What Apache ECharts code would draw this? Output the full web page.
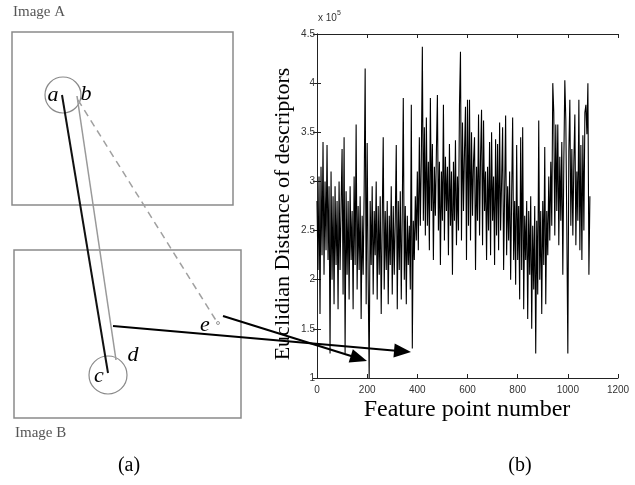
<!DOCTYPE html>
<html>
<head>
<meta charset="utf-8">
<script src="https://cdn.jsdelivr.net/npm/echarts@6/dist/echarts.min.js"></script>
<style>
html,body{margin:0;padding:0;background:#fff;}
#chart{width:635px;height:485px;}
</style>
</head>
<body>
<div id="chart"></div>
<script>
// Feature point number step between read values
const pointStep = 4;
// Euclidian distance of descriptors (x 10^5), one value per 4 feature points
const distances = [
  2.80,2.10,3.05,1.65,3.15,2.25,3.40,2.05,3.00,2.30,
  3.37,2.20,2.95,1.25,3.10,2.00,2.85,1.75,2.95,2.15,
  2.80,1.70,3.00,2.10,2.75,3.33,1.85,3.45,1.25,2.90,
  2.05,2.80,1.80,2.95,2.20,2.70,1.70,3.05,2.15,3.58,
  1.90,2.75,2.10,2.85,1.60,2.65,2.05,2.90,4.15,1.75,
  3.39,2.00,1.00,2.80,2.15,2.95,1.85,2.70,2.25,3.00,
  1.80,2.75,2.05,2.85,1.65,2.60,3.45,1.90,2.70,2.10,
  2.80,1.75,2.65,2.15,2.95,1.85,2.75,2.05,2.60,3.37,
  1.70,2.80,2.10,2.90,1.80,2.70,3.85,2.00,2.75,1.75,
  2.65,2.15,2.55,1.90,3.78,1.30,2.60,2.20,2.85,2.40,
  3.10,2.30,3.45,2.55,3.25,4.37,2.60,3.55,2.45,3.65,
  2.55,3.20,2.30,3.85,2.70,3.38,2.20,3.15,2.65,3.30,
  3.88,2.50,3.20,2.15,3.10,2.60,3.78,2.40,3.25,2.70,
  3.15,2.25,3.38,2.55,3.10,2.05,3.20,2.60,3.42,2.35,
  3.05,2.50,3.77,4.32,2.40,3.60,2.70,3.30,3.76,2.20,
  3.83,2.55,3.83,2.40,3.50,2.65,3.20,3.45,2.10,3.15,
  2.60,3.68,2.45,3.25,3.73,2.35,3.62,2.70,3.10,2.20,
  3.15,2.50,3.40,2.25,3.50,2.60,3.05,2.15,3.43,2.45,
  3.38,2.30,3.60,2.50,3.00,3.55,2.10,2.90,3.67,2.25,
  2.95,2.40,3.10,2.00,2.85,3.65,2.20,2.80,1.95,3.37,
  2.20,2.75,1.80,3.45,2.10,3.55,1.70,2.65,2.20,2.80,
  1.60,2.70,2.05,2.85,1.50,2.55,1.90,2.75,1.25,2.60,
  1.85,3.62,2.00,2.70,1.65,2.80,2.15,3.35,1.75,2.70,
  2.25,3.05,2.40,3.20,2.55,4.00,3.70,2.45,3.58,2.70,
  3.58,2.35,3.25,2.60,3.40,2.05,3.20,4.03,3.62,2.50,
  1.25,3.30,3.83,2.55,3.33,2.45,3.20,3.68,2.35,3.10,
  2.60,3.83,2.30,3.37,2.20,3.47,2.50,3.70,3.78,3.48,
  4.00,2.05,2.85
];
const xTicks = [0,200,400,600,800,1000,1200];
const yTicks = [1,1.5,2,2.5,3,3.5,4,4.5];

const seriesData = distances.map((v,i)=>[i*pointStep, v]);

const serif = '"Liberation Serif","Times New Roman",serif';
const narrow = '"Liberation Sans Narrow","Arial Narrow","Liberation Sans",sans-serif';

function arrowEls(x1,y1,x2,y2){
  const dx=x2-x1, dy=y2-y1, L=Math.hypot(dx,dy), ux=dx/L, uy=dy/L;
  const hl=17, hw=7;
  const bx=x2-ux*hl, by=y2-uy*hl;
  return [
    {type:'line', z:100, shape:{x1:x1,y1:y1,x2:bx+ux*2,y2:by+uy*2}, style:{stroke:'#000', lineWidth:2}},
    {type:'polygon', z:100, shape:{points:[[x2,y2],[bx-uy*hw,by+ux*hw],[bx+uy*hw,by-ux*hw]]}, style:{fill:'#000'}}
  ];
}

const gray='#8a8a8a';
const graphics = [
  {type:'text', left:13, top:5, style:{text:'Image A', font:'15px '+serif, fill:'#555'}},
  {type:'rect', shape:{x:12,y:32,width:221,height:173}, style:{fill:'none', stroke:gray, lineWidth:1.5}},
  {type:'rect', shape:{x:14,y:250,width:227,height:168}, style:{fill:'none', stroke:gray, lineWidth:1.5}},
  {type:'text', left:15, top:426, style:{text:'Image B', font:'15px '+serif, fill:'#555'}},
  {type:'circle', shape:{cx:63,cy:95,r:18}, style:{fill:'none', stroke:gray, lineWidth:1.2}},
  {type:'circle', shape:{cx:108,cy:375,r:19}, style:{fill:'none', stroke:gray, lineWidth:1.2}},
  {type:'line', shape:{x1:62,y1:95,x2:108,y2:373}, style:{stroke:'#111', lineWidth:2}},
  {type:'line', shape:{x1:77,y1:96,x2:116,y2:360}, style:{stroke:'#999', lineWidth:1.5}},
  {type:'line', shape:{x1:78,y1:100,x2:217,y2:322}, style:{stroke:'#a0a0a0', lineWidth:1.5, lineDash:[7,5]}},
  {type:'circle', shape:{cx:218,cy:323,r:1.5}, style:{fill:'none', stroke:'#999', lineWidth:1}},
  {type:'text', x:53, y:95, style:{text:'a', font:'italic 22px '+serif, fill:'#000', textAlign:'center', textVerticalAlign:'middle'}},
  {type:'text', x:86, y:94, style:{text:'b', font:'italic 22px '+serif, fill:'#000', textAlign:'center', textVerticalAlign:'middle'}},
  {type:'text', x:99, y:376, style:{text:'c', font:'italic 22px '+serif, fill:'#000', textAlign:'center', textVerticalAlign:'middle'}},
  {type:'text', x:133, y:355, style:{text:'d', font:'italic 22px '+serif, fill:'#000', textAlign:'center', textVerticalAlign:'middle'}},
  {type:'text', x:205, y:325, style:{text:'e', font:'italic 22px '+serif, fill:'#000', textAlign:'center', textVerticalAlign:'middle'}},
  ...arrowEls(113,326,411,352),
  ...arrowEls(223,316,367,361),
  {type:'text', x:129, y:466, style:{text:'(a)', font:'20px '+serif, fill:'#000', textAlign:'center', textVerticalAlign:'middle'}},
  {type:'text', x:520, y:466, style:{text:'(b)', font:'20px '+serif, fill:'#000', textAlign:'center', textVerticalAlign:'middle'}},
  {type:'text', x:467, y:410, style:{text:'Feature point number', font:'24px '+serif, fill:'#000', textAlign:'center', textVerticalAlign:'middle'}},
  {type:'text', x:283, y:214, rotation:Math.PI/2, style:{text:'Euclidian Distance of descriptors', font:'22px '+serif, fill:'#000', textAlign:'center', textVerticalAlign:'middle'}},
  {type:'text', x:318, y:23, style:{text:'{a|x 10}{s|5}', textVerticalAlign:'bottom', rich:{a:{fontSize:10, fontFamily:narrow, fill:'#333', verticalAlign:'bottom'}, s:{fontSize:7, fontFamily:narrow, fill:'#333', verticalAlign:'top', padding:[0,0,6,0]}}}}
];

const axisCommon = {
  axisLine:{show:true, lineStyle:{color:'#222', width:1}},
  splitLine:{show:false}
};
const plain = v => String(v);

const chart = echarts.init(document.getElementById('chart'), null, {renderer:'canvas'});
chart.setOption({
  animation:false,
  backgroundColor:'#fff',
  grid:{left:317, top:34, right:17, bottom:107},
  xAxis:[
    Object.assign({type:'value', position:'bottom', min:xTicks[0], max:xTicks[xTicks.length-1], interval:200,
      axisTick:{inside:true, length:4, lineStyle:{color:'#222'}},
      axisLabel:{fontSize:10, fontFamily:narrow, color:'#333', margin:7, formatter:plain}}, axisCommon),
    Object.assign({type:'value', position:'top', min:xTicks[0], max:xTicks[xTicks.length-1], interval:200,
      axisTick:{inside:true, length:4, lineStyle:{color:'#222'}}, axisLabel:{show:false}}, axisCommon)
  ],
  yAxis:[
    Object.assign({type:'value', position:'left', min:yTicks[0], max:yTicks[yTicks.length-1], interval:0.5,
      axisTick:{inside:true, length:4, lineStyle:{color:'#222'}},
      axisLabel:{fontSize:10, fontFamily:narrow, color:'#333', margin:2, formatter:plain}}, axisCommon),
    Object.assign({type:'value', position:'right', min:yTicks[0], max:yTicks[yTicks.length-1], interval:0.5,
      axisTick:{inside:true, length:4, lineStyle:{color:'#222'}}, axisLabel:{show:false}}, axisCommon)
  ],
  series:[{
    type:'line', data:seriesData, xAxisIndex:0, yAxisIndex:0,
    showSymbol:false, symbol:'none', sampling:null,
    lineStyle:{color:'#000', width:1.1}
  }],
  graphic:graphics
});
</script>
</body>
</html>
